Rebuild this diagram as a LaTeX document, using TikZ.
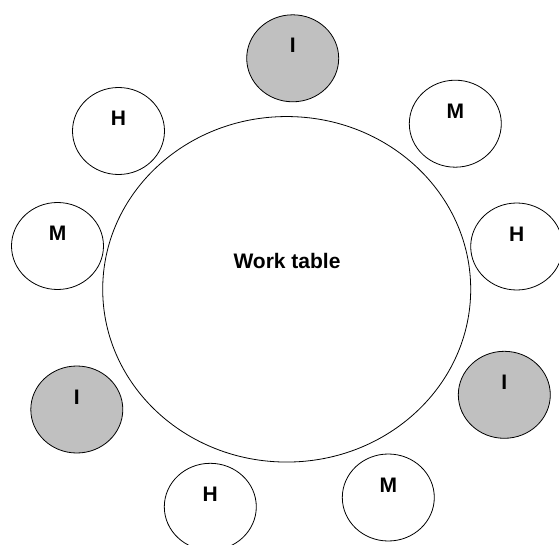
\documentclass[tikz,border=0pt]{standalone}
\usepackage{fontspec}
\setmainfont{Liberation Sans}
\usetikzlibrary{shapes.geometric}
\definecolor{seatgray}{HTML}{C0C0C0}
\tikzset{
  seat/.style={ellipse, draw=black, line width=0.8pt, fill=white, minimum width=92pt, minimum height=87pt, inner sep=0pt},
  graysseat/.style={seat, fill=seatgray},
  lbl/.style={font=\fontsize{21}{24}\selectfont\bfseries, inner sep=0pt},
  table/.style={ellipse, draw=black, line width=0.8pt, minimum width=368pt, minimum height=345.5pt, inner sep=0pt}
}
\begin{document}
\begin{tikzpicture}[x=1pt,y=-1pt]
\useasboundingbox (0,0) rectangle (559,545);
\node[table] (wt) at (286.7,289.3) {};
\node[lbl] (wtl) at (287,260.5) {Work table};
\node[graysseat] (i1) at (292.7,58.3) {};
\node[lbl] (i1l) at ([yshift=12.7pt]i1.center) {I};
\node[seat] (h1) at (118.5,131) {};
\node[lbl] (h1l) at ([yshift=12.7pt]h1.center) {H};
\node[seat] (m1) at (455.3,123.7) {};
\node[lbl] (m1l) at ([yshift=12.7pt]m1.center) {M};
\node[seat] (m2) at (57.5,246) {};
\node[lbl] (m2l) at ([yshift=12.7pt]m2.center) {M};
\node[seat] (h2) at (516.7,246.5) {};
\node[lbl] (h2l) at ([yshift=12.7pt]h2.center) {H};
\node[graysseat] (i2) at (76.8,409.5) {};
\node[lbl] (i2l) at ([yshift=12.7pt]i2.center) {I};
\node[graysseat] (i3) at (504.3,394.8) {};
\node[lbl] (i3l) at ([yshift=12.7pt]i3.center) {I};
\node[seat] (h3) at (210.3,506.8) {};
\node[lbl] (h3l) at ([yshift=12.7pt]h3.center) {H};
\node[seat] (m3) at (388.3,497.5) {};
\node[lbl] (m3l) at ([yshift=12.7pt]m3.center) {M};
\end{tikzpicture}
\end{document}
